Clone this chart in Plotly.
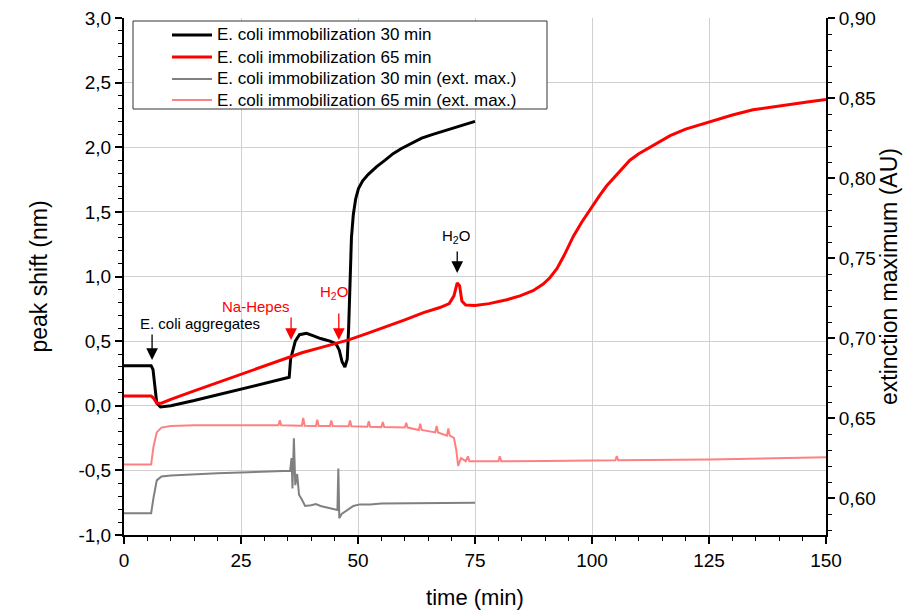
import plotly.graph_objects as go

# ---- data ----
t_black = [0, 5.8, 6.2, 7.0, 7.8, 10, 15, 20, 25, 30, 35.3, 35.6, 36.0, 36.6, 37.5, 39, 40.5, 42, 44,
           45.3, 46.0, 46.6, 47.2, 47.7, 48.0, 48.3, 48.6, 49.0, 49.5, 50.1, 51, 52.2, 54, 55.8, 57.5,
           59.3, 61.5, 63.6, 66, 68.6, 71.5, 75]
v_black = [0.31, 0.31, 0.28, 0.02, -0.01, 0.00, 0.04, 0.085, 0.13, 0.175, 0.22, 0.36, 0.42, 0.50, 0.55,
           0.56, 0.54, 0.52, 0.50, 0.48, 0.43, 0.34, 0.30, 0.36, 0.60, 1.04, 1.30, 1.48, 1.60, 1.68,
           1.74, 1.79, 1.85, 1.90, 1.95, 1.99, 2.03, 2.07, 2.10, 2.13, 2.16, 2.20]

t_red = [0, 5.8, 6.3, 7.0, 8, 10, 15, 20, 25, 30, 35, 38, 42, 46, 48, 52, 56, 60, 64, 67.5, 69.5, 70.5,
         71.2, 71.7, 72.2, 73, 75, 78, 81.8, 84.6, 87.4, 89.5, 91, 92.5, 94, 96, 97.8, 99.6, 101.5,
         103.1, 105.5, 108.1, 110, 112.4, 116.7, 120, 125.2, 130, 134.4, 138, 142.3, 146, 150]
v_red = [0.075, 0.075, 0.06, 0.02, 0.02, 0.05, 0.115, 0.18, 0.245, 0.31, 0.37, 0.41, 0.45, 0.49, 0.51,
         0.56, 0.61, 0.665, 0.72, 0.76, 0.79, 0.85, 0.95, 0.93, 0.81, 0.78, 0.775, 0.79, 0.82, 0.85,
         0.89, 0.94, 0.99, 1.06, 1.16, 1.31, 1.42, 1.52, 1.62, 1.70, 1.80, 1.90, 1.95, 2.00, 2.09,
         2.14, 2.20, 2.25, 2.29, 2.31, 2.33, 2.35, 2.37]

t_gray = [0, 5.8, 6.3, 7.0, 8, 10, 20, 30, 35.5, 35.8, 36.0, 36.3, 36.6, 37.0, 37.4, 38, 38.7, 40, 41,
          42, 44, 45.6, 45.8, 46.0, 46.5, 48, 49, 50.4, 52.6, 55, 60, 65, 70, 75]
v_gray = [0.5905, 0.5905, 0.600, 0.611, 0.6135, 0.614, 0.6155, 0.6165, 0.617, 0.625, 0.606, 0.6373,
          0.608, 0.615, 0.602, 0.599, 0.595, 0.5955, 0.5962, 0.595, 0.5935, 0.5925, 0.6185, 0.5873,
          0.590, 0.593, 0.595, 0.596, 0.596, 0.5965, 0.5967, 0.597, 0.597, 0.597]

t_pink = [0, 5.8, 6.3, 7.0, 8, 10, 15, 20, 25, 30, 33, 33.3, 33.6, 38, 38.3, 38.6, 41, 41.3, 41.6, 44,
          44.3, 44.6, 48, 48.3, 48.6, 52, 52.3, 52.6, 55, 55.3, 55.6, 60, 60.3, 60.6, 63, 63.3, 63.6,
          66.5, 66.8, 67.1, 69, 69.3, 69.6, 70.5, 71.0, 71.4, 72, 73, 73.5, 73.8, 75, 80, 80.3, 80.6,
          90, 100, 105, 105.3, 105.6, 125, 150]
v_pink = [0.621, 0.621, 0.632, 0.641, 0.644, 0.645, 0.6455, 0.6455, 0.6455, 0.6455, 0.6455, 0.6485,
          0.6455, 0.6452, 0.650, 0.6452, 0.645, 0.649, 0.645, 0.645, 0.6485, 0.645, 0.6448, 0.6485,
          0.6448, 0.6445, 0.648, 0.6445, 0.6443, 0.6475, 0.6443, 0.644, 0.647, 0.644, 0.6425, 0.6465,
          0.6425, 0.641, 0.645, 0.641, 0.639, 0.6435, 0.639, 0.6375, 0.630, 0.620, 0.625, 0.623, 0.626,
          0.623, 0.623, 0.623, 0.626, 0.623, 0.6232, 0.6235, 0.6236, 0.6262, 0.6236, 0.624, 0.6255]

names = ["E. coli immobilization 30 min", "E. coli immobilization 65 min",
         "E. coli immobilization 30 min (ext. max.)", "E. coli immobilization 65 min (ext. max.)"]
colors = ["black", "#ff0000", "#808080", "#ff8080"]
widths = [3, 3, 2, 2]

y_tickvals = [-1.0, -0.5, 0.0, 0.5, 1.0, 1.5, 2.0, 2.5, 3.0]
y_ticktext = ["-1,0", "-0,5", "0,0", "0,5", "1,0", "1,5", "2,0", "2,5", "3,0"]
y2_tickvals = [0.60, 0.65, 0.70, 0.75, 0.80, 0.85, 0.90]
y2_ticktext = ["0,60", "0,65", "0,70", "0,75", "0,80", "0,85", "0,90"]

FONT = "Liberation Sans, Arial, sans-serif"

fig = go.Figure()
series = [(t_black, v_black, "y"), (t_red, v_red, "y"), (t_gray, v_gray, "y2"), (t_pink, v_pink, "y2")]
for (tx, vy, ax), nm, c, w in zip(series, names, colors, widths):
    fig.add_trace(go.Scatter(x=tx, y=vy, mode="lines", name=nm, yaxis=ax,
                             line=dict(color=c, width=w), showlegend=False))

# manual legend box (paper coordinates), to mimic the reference layout
L, R, T, B = 124, 826, 18, 535
def px(x):
    return (x - L) / (R - L)
def py(y):
    return (B - y) / (B - T)

fig.add_shape(type="rect", xref="paper", yref="paper", x0=px(133), x1=px(547), y0=py(109), y1=py(21),
              line=dict(color="#333333", width=1), fillcolor="white", layer="above")
row_y = [35, 57, 79, 100]
for yy, nm, c, w in zip(row_y, names, colors, widths):
    fig.add_shape(type="line", xref="paper", yref="paper", x0=px(172), x1=px(212), y0=py(yy), y1=py(yy),
                  line=dict(color=c, width=w), layer="above")
    fig.add_annotation(xref="paper", yref="paper", x=px(215), y=py(yy), xanchor="left", yanchor="middle",
                       text=nm, showarrow=False, font=dict(family=FONT, size=17, color="black"))

# annotations: text + arrows
def arrow(x, y_tip, y_tail, color):
    fig.add_annotation(x=x, y=y_tip, ax=x, ay=y_tail, axref="x", ayref="y", xref="x", yref="y",
                       text="", showarrow=True, arrowhead=2, arrowsize=1.8, arrowwidth=1.3,
                       arrowcolor=color, standoff=0)

def label(x, y, txt, color):
    fig.add_annotation(x=x, y=y, xref="x", yref="y", text=txt, showarrow=False,
                       font=dict(family=FONT, size=15, color=color))

label(16.2, 0.64, "E. coli aggregates", "black")
arrow(6.0, 0.354, 0.563, "black")
label(28.3, 0.765, "Na-Hepes", "#ff0000")
arrow(35.7, 0.509, 0.694, "#ff0000")
label(44.9, 0.88, "H<sub>2</sub>O", "#ff0000")
arrow(45.9, 0.509, 0.725, "#ff0000")
label(70.9, 1.31, "H<sub>2</sub>O", "black")
arrow(71.2, 1.027, 1.205, "black")

tick_common = dict(showline=True, linecolor="black", linewidth=2, ticks="outside", ticklen=7,
                   tickwidth=1.5, tickcolor="black", zeroline=False, automargin=False,
                   tickfont=dict(size=19))

fig.update_layout(
    width=915, height=616,
    margin=dict(l=L, r=915 - R, t=T, b=616 - B, autoexpand=False),
    paper_bgcolor="white", plot_bgcolor="white",
    separators=", ",
    font=dict(family=FONT, size=15, color="black"),
    showlegend=False,
    xaxis=dict(range=[0, 150], dtick=25, tick0=0, showgrid=True, gridcolor="#d0d0d0", gridwidth=1,
               minor=dict(dtick=5, ticks="outside", ticklen=4, tickwidth=1.2, tickcolor="black",
                          showgrid=False),
               title=dict(text="time (min)", font=dict(size=22), standoff=20), **tick_common),
    yaxis=dict(range=[-1.0, 3.0], tickmode="array", tickvals=y_tickvals, ticktext=y_ticktext,
               showgrid=True, gridcolor="#d0d0d0", gridwidth=1,
               minor=dict(dtick=0.1, tick0=0, ticks="outside", ticklen=4, tickwidth=1.2,
                          tickcolor="black", showgrid=False),
               title=dict(text="peak shift (nm)", font=dict(size=23), standoff=24), **tick_common),
    yaxis2=dict(range=[0.576875, 0.90], tickmode="array", tickvals=y2_tickvals, ticktext=y2_ticktext,
                overlaying="y", side="right", showgrid=False,
                minor=dict(dtick=0.01, tick0=0.6, ticks="outside", ticklen=4, tickwidth=1.2,
                           tickcolor="black"),
                title=dict(text="extinction maximum (AU)", font=dict(size=23), standoff=6),
                **tick_common),
)

fig.write_html("out.html", config={"displayModeBar": False},
               post_script="document.body.style.margin='0';document.body.style.padding='0';")
